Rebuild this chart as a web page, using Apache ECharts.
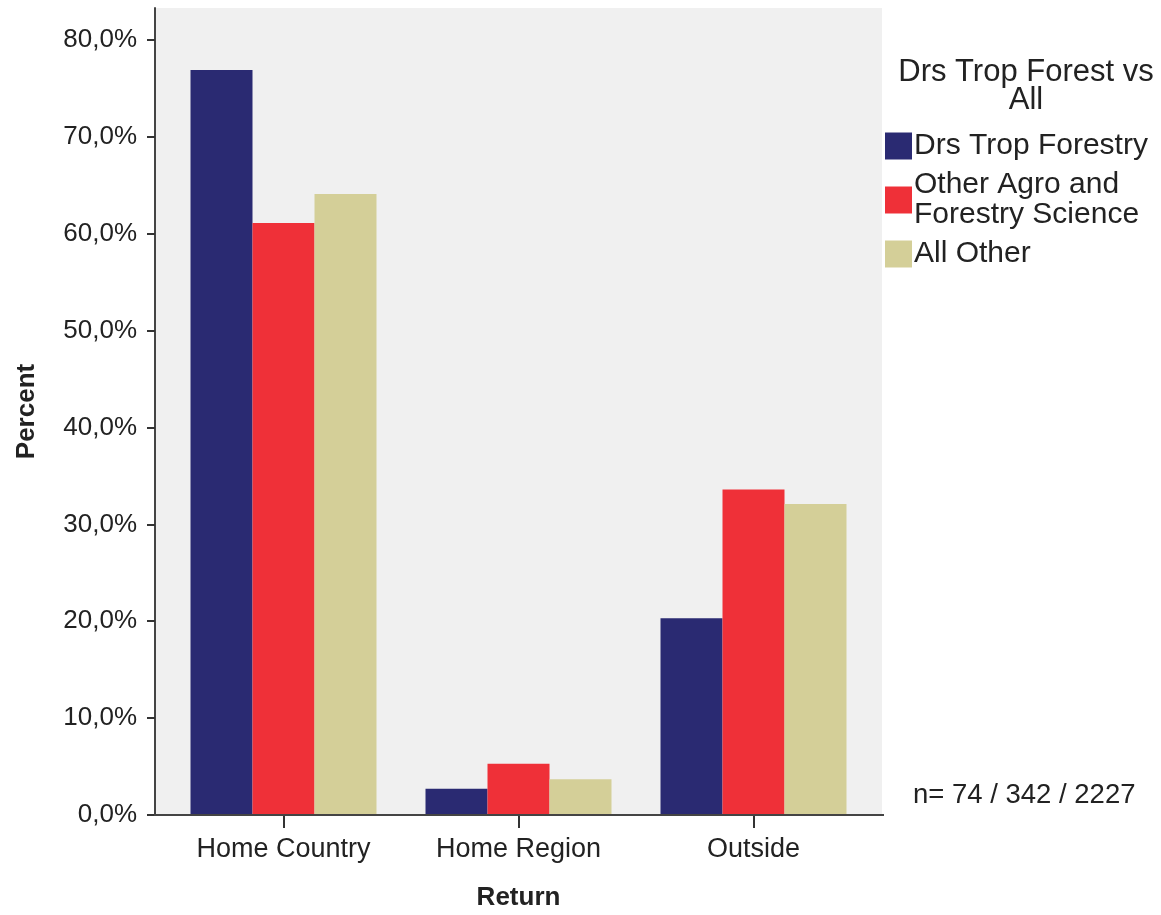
<!DOCTYPE html>
<html>
<head>
<meta charset="utf-8">
<script src="https://cdn.jsdelivr.net/npm/echarts@6/dist/echarts.min.js"></script>
<style>html,body{margin:0;padding:0;background:#fff;}#c{width:1161px;height:915px;}</style>
</head>
<body>
<div id="c"></div>
<script>
const categories = ['Home Country', 'Home Region', 'Outside'];
const drsTropForestry = [76.9, 2.7, 20.3];
const otherAgroForestry = [61.1, 5.3, 33.6];
const allOther = [64.1, 3.7, 32.1];
const seriesNames = ['Drs Trop Forestry', 'Other Agro and\nForestry Science', 'All Other'];
const legendTitle = 'Drs Trop Forest vs\nAll';
const sampleNote = 'n= 74 / 342 / 2227';
const yTicks = [0, 10, 20, 30, 40, 50, 60, 70, 80];

const FONT = 'Arial, "Liberation Sans", sans-serif';
const TXT = '#222';
const chart = echarts.init(document.getElementById('c'), null, {renderer: 'canvas'});

const colors = ['#2a2a72', '#ef3038', '#d4cf98'];
const data = [drsTropForestry, otherAgroForestry, allOther];

chart.setOption({
  animation: false,
  backgroundColor: '#fff',
  textStyle: {fontFamily: FONT},
  title: {
    text: legendTitle,
    left: 1021,
    top: 53,
    textAlign: 'center',
    textStyle: {fontFamily: FONT, fontSize: 31, fontWeight: 'normal', color: TXT, lineHeight: 28}
  },
  legend: {
    orient: 'vertical',
    left: 880,
    top: 126,
    itemWidth: 27,
    itemHeight: 27,
    itemGap: 9,
    icon: 'rect',
    textStyle: {fontFamily: FONT, fontSize: 30, color: TXT, lineHeight: 30, padding: [0, 0, 0, -3]},
    data: seriesNames
  },
  grid: {left: 166, top: 8, width: 705, height: 807, containLabel: false, outerBoundsMode: 'none'},
  xAxis: {
    type: 'category',
    data: categories,
    name: 'Return',
    nameLocation: 'middle',
    nameGap: 70,
    nameTextStyle: {fontFamily: FONT, fontSize: 26, fontWeight: 'bold', color: TXT},
    axisLine: {show: false},
    axisTick: {show: true, alignWithLabel: true, length: 13, lineStyle: {color: '#333', width: 2}},
    axisLabel: {fontFamily: FONT, fontSize: 27, color: TXT, margin: 21}
  },
  yAxis: {
    type: 'value',
    min: 0,
    max: 83.3,
    interval: 10,
    offset: 11,
    name: 'Percent',
    nameLocation: 'middle',
    nameGap: 115,
    nameTextStyle: {fontFamily: FONT, fontSize: 26, fontWeight: 'bold', color: TXT},
    splitLine: {show: false},
    axisLine: {show: true, lineStyle: {color: '#444', width: 2}},
    axisTick: {show: true, length: 8, customValues: yTicks, lineStyle: {color: '#333', width: 2}},
    axisLabel: {
      fontFamily: FONT, fontSize: 26, color: TXT, margin: 18,
      customValues: yTicks,
      formatter: function (v) { return v.toFixed(1).replace('.', ',') + '%'; }
    }
  },
  graphic: [
    {type: 'rect', z: -10, silent: true, shape: {x: 155, y: 8, width: 727, height: 807}, style: {fill: '#f0f0f0'}},
    {type: 'line', z: 100, silent: true, shape: {x1: 154, y1: 815, x2: 884, y2: 815}, style: {stroke: '#444', lineWidth: 2}},
    {type: 'text', z: 100, left: 913, top: 781, style: {text: sampleNote, font: '27.5px ' + FONT, fill: TXT}}
  ],
  series: seriesNames.map(function (n, i) {
    return {
      name: n,
      type: 'bar',
      data: data[i],
      barWidth: 62,
      barGap: '0%',
      itemStyle: {color: colors[i]}
    };
  })
});
</script>
</body>
</html>
